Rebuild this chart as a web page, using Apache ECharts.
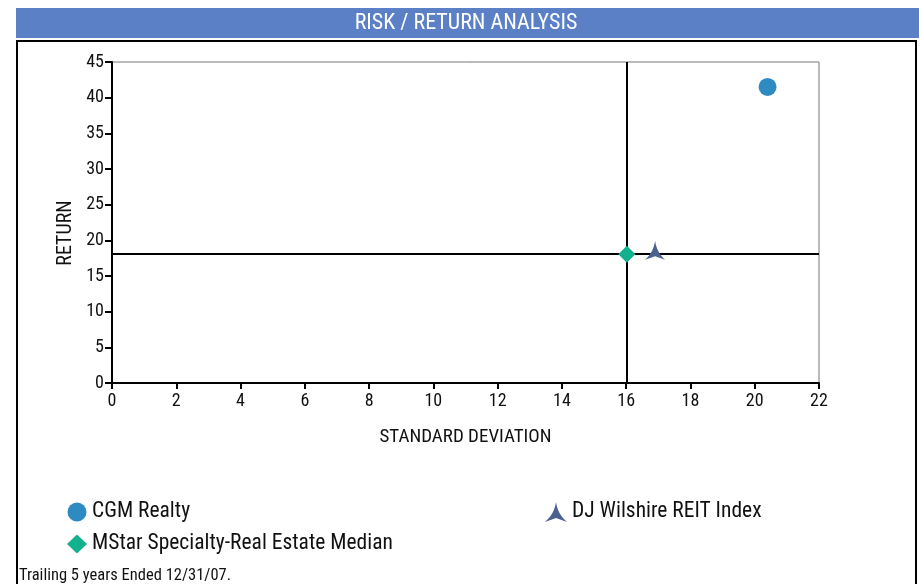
<!DOCTYPE html>
<html><head><meta charset="utf-8">
<script src="https://cdn.jsdelivr.net/npm/echarts@6/dist/echarts.min.js"></script>
<style>html,body{margin:0;padding:0;background:#fff}#c{width:919px;height:584px}</style>
</head><body><div id="c"></div>
<script>
const xTicks = [0,2,4,6,8,10,12,14,16,18,20,22];
const yTicks = [0,5,10,15,20,25,30,35,40,45];
const seriesNames = ['CGM Realty','MStar Specialty-Real Estate Median','DJ Wilshire REIT Index'];
const cgmPoint = [20.4, 41.5];
const medianPoint = [16.02, 18.05];
const djPoint = [16.9, 18.6];
const FONT = '"Liberation Sans Narrow","Arial Narrow","Roboto Condensed",sans-serif';
const ARROW = 'path://M10,0 C11,7 14,13 20,18 L10,14.5 L0,18 C6,13 9,7 10,0 Z';

const chart = echarts.init(document.getElementById('c'));
chart.setOption({
  animation:false,
  textStyle:{fontFamily:FONT},
  graphic:[
    {type:'rect',shape:{x:16,y:8,width:903,height:30},style:{fill:'#5b80c6'},z:-10},
    {type:'text',style:{text:'RISK / RETURN ANALYSIS',x:466,y:23,align:'center',verticalAlign:'middle',fill:'#fff',font:'22px '+FONT},z:-9},
    {type:'rect',shape:{x:17,y:41,width:899,height:560},style:{fill:'none',stroke:'#000',lineWidth:2},z:-10},
    {type:'text',style:{text:'Trailing 5 years Ended 12/31/07.',x:19,y:576,verticalAlign:'middle',fill:'#111',font:'16.5px '+FONT}},
    {type:'text',x:66,y:233,rotation:Math.PI/2,style:{text:'RETURN',align:'center',verticalAlign:'middle',fill:'#111',font:'20px '+FONT}}
  ],
  grid:{left:112,top:62,right:100,bottom:201,show:true,borderColor:'#777',borderWidth:1},
  xAxis:{type:'value',min:0,max:22,interval:2,
    name:'STANDARD DEVIATION',nameLocation:'middle',nameGap:45,
    nameTextStyle:{color:'#111',fontSize:19,fontFamily:FONT},
    axisLine:{show:true,onZero:false,lineStyle:{color:'#000',width:2}},
    axisTick:{show:true,length:6,lineStyle:{color:'#000',width:2}},
    axisLabel:{color:'#111',fontSize:18,margin:9,fontFamily:FONT},
    splitLine:{show:false}},
  yAxis:{type:'value',min:0,max:45,interval:5,
    axisLine:{show:true,onZero:false,lineStyle:{color:'#000',width:2}},
    axisTick:{show:true,length:7,lineStyle:{color:'#000',width:2}},
    axisLabel:{color:'#111',fontSize:18,margin:8,fontFamily:FONT},
    splitLine:{show:false}},
  legend:[
    {left:62,top:496,orient:'vertical',itemGap:10,itemWidth:20,itemHeight:19,
     textStyle:{fontSize:21.5,color:'#111',fontFamily:FONT},
     data:[{name:seriesNames[0],icon:'circle'},{name:seriesNames[1],icon:'diamond'}]},
    {left:540,top:496,itemWidth:22,itemHeight:20,
     textStyle:{fontSize:21.5,color:'#111',fontFamily:FONT},
     data:[{name:seriesNames[2],icon:ARROW}]}
  ],
  series:[
    {name:seriesNames[0],type:'scatter',symbol:'circle',symbolSize:18,
     itemStyle:{color:'#2e8bc2',opacity:1},data:[cgmPoint],z:5},
    {name:seriesNames[1],type:'scatter',symbol:'diamond',symbolSize:17,
     itemStyle:{color:'#12b08c',opacity:1},data:[medianPoint],z:5,
     markLine:{silent:true,symbol:['none','none'],label:{show:false},
       lineStyle:{color:'#000',width:2,type:'solid'},
       data:[{xAxis:medianPoint[0]},{yAxis:medianPoint[1]}],z:3}},
    {name:seriesNames[2],type:'scatter',symbol:ARROW,symbolSize:[20,19],
     itemStyle:{color:'#4b6290',opacity:1},data:[djPoint],z:5}
  ]
});
</script></body></html>
